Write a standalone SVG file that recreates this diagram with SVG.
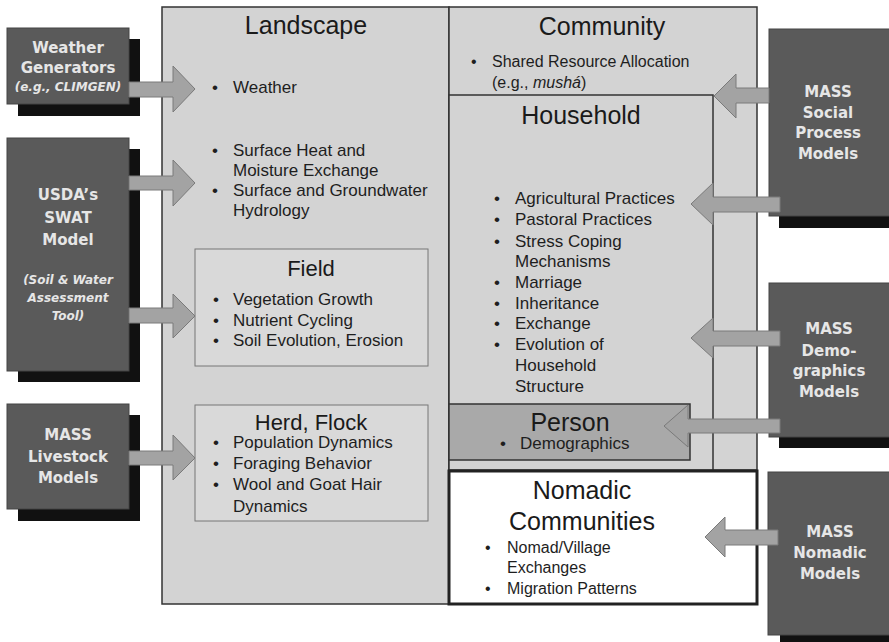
<svg xmlns="http://www.w3.org/2000/svg" width="889" height="642" viewBox="0 0 889 642">
<style>
.bg{fill:#ffffff}
.pane{fill:#d3d3d3;stroke:#333;stroke-width:1.5}
.sub{fill:#d9d9d9;stroke:#777;stroke-width:1}
.person{fill:#a9a9a9;stroke:#333;stroke-width:1.5}
.nomad{fill:#ffffff;stroke:#222;stroke-width:3}
.mbox{fill:#5a5a5a;stroke:#444;stroke-width:1}
.shadow{fill:#111}
.arrow{fill:#a3a3a3;stroke:#7a7a7a;stroke-width:1}
.title{font-family:"Liberation Sans",Arial,sans-serif;font-size:25px;fill:#1a1a1a;text-anchor:middle}
.stitle{font-family:"Liberation Sans",Arial,sans-serif;font-size:22px;fill:#1a1a1a;text-anchor:middle}
.item{font-family:"Liberation Sans",Arial,sans-serif;font-size:17px;fill:#1e1e1e}
.item16{font-family:"Liberation Sans",Arial,sans-serif;font-size:16px;fill:#1e1e1e}
.lbl{font-family:"DejaVu Sans",Verdana,sans-serif;font-weight:bold;font-size:15px;fill:#e6e6e6;text-anchor:middle}
.lbli{font-family:"DejaVu Sans",Verdana,sans-serif;font-weight:bold;font-style:italic;font-size:12px;fill:#e6e6e6;text-anchor:middle}
</style>
<rect class="bg" x="0" y="0" width="889" height="642"/>

<g id="landscape">
<rect class="pane" x="162" y="7" width="287" height="597"/>
<text class="title" x="306" y="34">Landscape</text>
<text class="item" x="212" y="93">•</text><text class="item" x="233" y="93">Weather</text>
<text class="item" x="212" y="156">•</text><text class="item" x="233" y="156">Surface Heat and</text>
<text class="item" x="233" y="176">Moisture Exchange</text>
<text class="item" x="212" y="196">•</text><text class="item" x="233" y="196">Surface and Groundwater</text>
<text class="item" x="233" y="216">Hydrology</text>
</g>

<g id="community">
<rect class="pane" x="449" y="7" width="308" height="463"/>
<text class="title" x="602" y="35">Community</text>
<text class="item16" x="471" y="67">•</text><text class="item16" x="492" y="67">Shared Resource Allocation</text>
<text class="item16" x="492" y="88">(e.g., <tspan font-style="italic">mushá</tspan>)</text>
</g>

<g id="household">
<rect class="pane" x="449" y="95" width="264" height="375"/>
<text class="title" x="581" y="124">Household</text>
<text class="item" x="494" y="204">•</text><text class="item" x="515" y="204">Agricultural Practices</text>
<text class="item" x="494" y="225">•</text><text class="item" x="515" y="225">Pastoral Practices</text>
<text class="item" x="494" y="247">•</text><text class="item" x="515" y="247">Stress Coping</text>
<text class="item" x="515" y="267">Mechanisms</text>
<text class="item" x="494" y="288">•</text><text class="item" x="515" y="288">Marriage</text>
<text class="item" x="494" y="309">•</text><text class="item" x="515" y="309">Inheritance</text>
<text class="item" x="494" y="329">•</text><text class="item" x="515" y="329">Exchange</text>
<text class="item" x="494" y="350">•</text><text class="item" x="515" y="350">Evolution of</text>
<text class="item" x="515" y="371">Household</text>
<text class="item" x="515" y="392">Structure</text>
</g>

<g id="field">
<rect class="sub" x="195" y="249" width="233" height="117"/>
<text class="stitle" x="311" y="276">Field</text>
<text class="item" x="213" y="305">•</text><text class="item" x="233" y="305">Vegetation Growth</text>
<text class="item" x="213" y="326">•</text><text class="item" x="233" y="326">Nutrient Cycling</text>
<text class="item" x="213" y="346">•</text><text class="item" x="233" y="346">Soil Evolution, Erosion</text>
</g>

<g id="herd">
<rect class="sub" x="195" y="405" width="233" height="116"/>
<text class="stitle" x="311" y="430">Herd, Flock</text>
<text class="item" x="213" y="448">•</text><text class="item" x="233" y="448">Population Dynamics</text>
<text class="item" x="213" y="469">•</text><text class="item" x="233" y="469">Foraging Behavior</text>
<text class="item" x="213" y="490">•</text><text class="item" x="233" y="490">Wool and Goat Hair</text>
<text class="item" x="233" y="512">Dynamics</text>
</g>

<g id="person">
<rect class="person" x="449" y="404" width="241" height="56"/>
<text class="title" x="570" y="431">Person</text>
<text class="item" x="500" y="449">•</text><text class="item" x="520" y="449">Demographics</text>
</g>

<g id="nomadic">
<rect class="nomad" x="449" y="471" width="308" height="133"/>
<text class="title" x="582" y="499">Nomadic</text>
<text class="title" x="582" y="530">Communities</text>
<text class="item16" x="485" y="553">•</text><text class="item16" x="507" y="553">Nomad/Village</text>
<text class="item16" x="507" y="573">Exchanges</text>
<text class="item16" x="485" y="594">•</text><text class="item16" x="507" y="594">Migration Patterns</text>
</g>

<g id="weather-generators">
<rect class="shadow" x="18" y="39" width="122" height="77"/>
<rect class="mbox" x="7" y="28" width="122" height="76"/>
<text class="lbl" x="68" y="53" font-size="14.5">Weather</text>
<text class="lbl" x="68" y="73" font-size="14.5">Generators</text>
<text class="lbli" x="68" y="91">(e.g., CLIMGEN)</text>
</g>

<g id="usda-swat">
<rect class="shadow" x="18" y="149" width="122" height="233"/>
<rect class="mbox" x="7" y="138" width="122" height="233"/>
<text class="lbl" x="68" y="200">USDA’s</text>
<text class="lbl" x="68" y="223">SWAT</text>
<text class="lbl" x="68" y="245">Model</text>
<text class="lbli" x="68" y="284">(Soil &amp; Water</text>
<text class="lbli" x="68" y="302">Assessment</text>
<text class="lbli" x="68" y="320">Tool)</text>
</g>

<g id="mass-livestock">
<rect class="shadow" x="18" y="415" width="122" height="106"/>
<rect class="mbox" x="7" y="404" width="122" height="105"/>
<text class="lbl" x="68" y="440">MASS</text>
<text class="lbl" x="68" y="462">Livestock</text>
<text class="lbl" x="68" y="483">Models</text>
</g>

<g id="mass-social">
<rect class="shadow" x="779" y="40" width="120" height="188"/>
<rect class="mbox" x="769" y="29" width="125" height="187"/>
<text class="lbl" x="828" y="97">MASS</text>
<text class="lbl" x="828" y="118">Social</text>
<text class="lbl" x="828" y="138">Process</text>
<text class="lbl" x="828" y="159">Models</text>
</g>

<g id="mass-demographics">
<rect class="shadow" x="779" y="294" width="120" height="154"/>
<rect class="mbox" x="769" y="283" width="125" height="154"/>
<text class="lbl" x="829" y="334">MASS</text>
<text class="lbl" x="829" y="356">Demo-</text>
<text class="lbl" x="829" y="376">graphics</text>
<text class="lbl" x="829" y="397">Models</text>
</g>

<g id="mass-nomadic">
<rect class="shadow" x="780" y="483" width="120" height="170"/>
<rect class="mbox" x="768" y="472" width="126" height="163"/>
<text class="lbl" x="830" y="537">MASS</text>
<text class="lbl" x="830" y="558">Nomadic</text>
<text class="lbl" x="830" y="579">Models</text>
</g>

<g id="connectors">
<polygon class="arrow" points="129,82 173,82 173,66 195,89 173,112 173,97 129,97"/>
<polygon class="arrow" points="129,176 173,176 173,160 195,183 173,206 173,190 129,190"/>
<polygon class="arrow" points="129,308 173,308 173,294 195,316 173,338 173,323 129,323"/>
<polygon class="arrow" points="129,451 173,451 173,435 195,458 173,480 173,465 129,465"/>
<polygon class="arrow" points="769,88 736,88 736,74 714,96 736,118 736,103 769,103"/>
<polygon class="arrow" points="780,197 713,197 713,183 691,204 713,225 713,212 780,212"/>
<polygon class="arrow" points="780,331 713,331 713,318 691,338 713,358 713,346 780,346"/>
<polygon class="arrow" points="780,419 688,419 688,405 664,426 688,447 688,433 780,433"/>
<polygon class="arrow" points="778,530 725,530 725,517 705,537 725,557 725,545 778,545"/>
</g>
</svg>
